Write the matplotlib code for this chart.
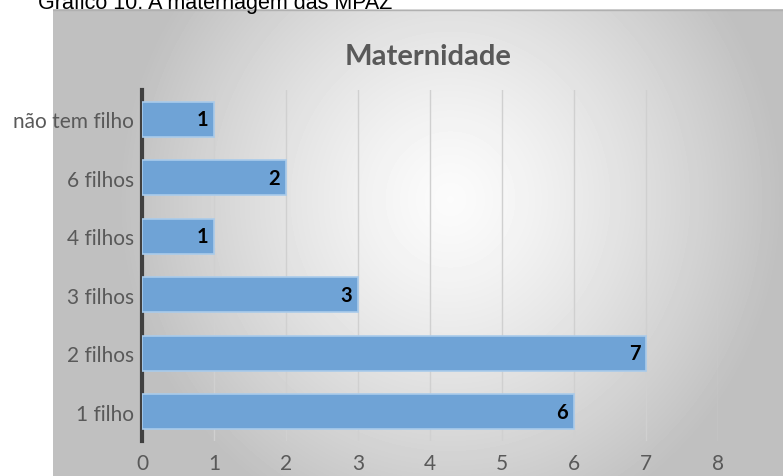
import numpy as np
import matplotlib.pyplot as plt

# dados do gráfico
categorias = ['1 filho', '2 filhos', '3 filhos', '4 filhos', '6 filhos', 'não tem filho']
valores = [6, 7, 3, 1, 2, 1]
xticks = [0, 1, 2, 3, 4, 5, 6, 7, 8]

W, H = 783, 477
fig = plt.figure(figsize=(W / 100, H / 100), dpi=100)
fig.patch.set_facecolor('white')

# caixa de fundo com gradiente radial
bx0, by0 = 53, 10
bg = fig.add_axes([bx0 / W, 0, (W - bx0) / W, (H - by0) / H])
bg.set_axis_off()
yy, xx = np.mgrid[0:H - by0, 0:W - bx0]
cx, cy = 450 - bx0, 200 - by0
r = np.sqrt(((xx - cx) / 1.0) ** 2 + ((yy - cy) / 1.05) ** 2)
t = np.clip(r / 330.0, 0, 1)
shade = 0.985 - (0.985 - 0.753) * t ** 1.3
bg.imshow(shade, cmap='gray', vmin=0, vmax=1, aspect='auto', interpolation='bilinear')
bg.axhline(0, color='#b0b0b0', lw=1)

# legenda do gráfico (cortada no topo, como na imagem original)
fig.text(38 / W, 1 - 9 / H, 'Gráfico 10: A maternagem das MPAZ', fontsize=15.5,
         family='Liberation Sans', color='black', ha='left', va='baseline')

ax = fig.add_axes([142 / W, 1 - 442 / H, (718 - 142) / W, (442 - 91) / H])
ax.patch.set_alpha(0)
y = np.arange(len(categorias))
bars = ax.barh(y, valores, height=0.6, color='#6fa3d6', edgecolor='#a9cbeb', linewidth=1.2, zorder=3)
for b, v in zip(bars, valores):
    ax.text(v - 0.08, b.get_y() + b.get_height() / 2, str(v), ha='right', va='center',
            fontsize=14.5, fontweight='bold', family='Lato', color='black', zorder=4)

ax.set_xlim(0, 8)
ax.set_ylim(-0.5, len(categorias) - 0.5)
ax.set_xticks(xticks)
ax.set_yticks(y)
ax.set_yticklabels(categorias)
ax.grid(axis='x', color='#d0d0d0', lw=1, zorder=0)
for s in ['top', 'right', 'bottom']:
    ax.spines[s].set_visible(False)
ax.spines['left'].set_color('#404040')
ax.spines['left'].set_linewidth(3)
ax.tick_params(length=0, labelsize=15, labelcolor='#595959', pad=6)
for lab in ax.get_xticklabels() + ax.get_yticklabels():
    lab.set_family('Lato')
ax.tick_params(axis='x', pad=9)

fig.text(428 / W, 1 - 57 / H, 'Maternidade', fontsize=21, fontweight='bold', family='Lato',
         color='#595959', ha='center', va='center')

fig.savefig('out.png', dpi=100)
